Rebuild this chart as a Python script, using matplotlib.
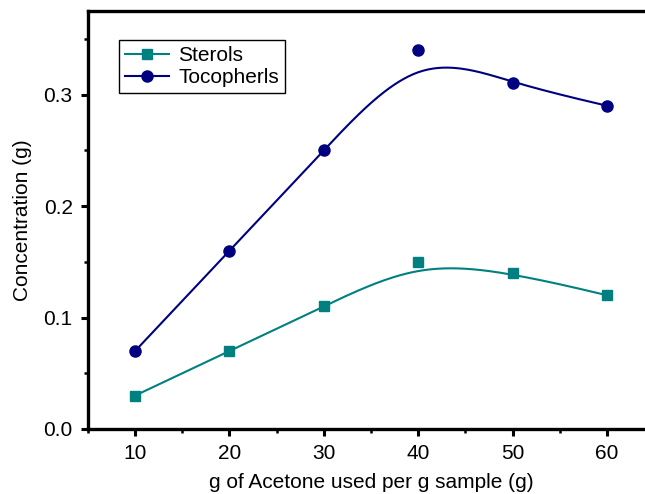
import numpy as np
import matplotlib
matplotlib.use("Agg")
import matplotlib.pyplot as plt
from matplotlib.ticker import MultipleLocator

# Data
acetone = [10, 20, 30, 40, 50, 60]
sterols = [0.03, 0.07, 0.11, 0.15, 0.14, 0.12]
tocopherols = [0.07, 0.16, 0.25, 0.34, 0.31, 0.29]
x_ticks = [10, 20, 30, 40, 50, 60]
y_ticks = [0.0, 0.1, 0.2, 0.3]


def bspline_curve(x, y, per_seg=60):
    """Uniform cubic B-spline using the data as control points (ends tripled)."""
    P = np.column_stack([x, y]).astype(float)
    C = np.vstack([P[0], P[0], P, P[-1], P[-1]])
    t = np.linspace(0, 1, per_seg)
    b0 = (1 - t) ** 3 / 6
    b1 = (3 * t ** 3 - 6 * t ** 2 + 4) / 6
    b2 = (-3 * t ** 3 + 3 * t ** 2 + 3 * t + 1) / 6
    b3 = t ** 3 / 6
    pts = []
    for i in range(len(C) - 3):
        seg = (np.outer(b0, C[i]) + np.outer(b1, C[i + 1])
               + np.outer(b2, C[i + 2]) + np.outer(b3, C[i + 3]))
        pts.append(seg)
    pts = np.vstack(pts)
    return pts[:, 0], pts[:, 1]


plt.rcParams['font.family'] = ['Liberation Sans', 'DejaVu Sans']

fig = plt.figure(figsize=(6.45, 4.94), dpi=100)
ax = fig.add_axes([0.1364, 0.1316, 0.8776, 0.8462])

teal = '#008080'
navy = '#000080'
sx, sy = bspline_curve(acetone, sterols)
tx, ty = bspline_curve(acetone, tocopherols)
ax.plot(sx, sy, color=teal, lw=1.5)
ax.plot(tx, ty, color=navy, lw=1.5)
ax.plot(acetone, sterols, 's', color=teal, ms=7, linestyle='none')
ax.plot(acetone, tocopherols, 'o', color=navy, ms=8, linestyle='none')

# legend proxies
ax.plot([], [], color=teal, marker='s', ms=7, lw=1.5, label='Sterols')
ax.plot([], [], color=navy, marker='o', ms=8, lw=1.5, label='Tocopherls')
leg = ax.legend(loc='upper left', bbox_to_anchor=(0.055, 0.93), fontsize=15,
                frameon=True, fancybox=False, edgecolor='black', framealpha=1,
                handlelength=2.1, borderpad=0.3, labelspacing=0.12, handletextpad=0.45,
                borderaxespad=0)
leg.get_frame().set_linewidth(1.0)

ax.set_xlim(5, 65)
ax.set_ylim(0, 0.375)
ax.set_xticks(x_ticks)
ax.set_yticks(y_ticks)
ax.set_yticklabels([f"{v:.1f}" for v in y_ticks])
ax.xaxis.set_minor_locator(MultipleLocator(5))
ax.yaxis.set_minor_locator(MultipleLocator(0.05))
ax.tick_params(which='major', direction='out', length=5, width=2.2, labelsize=15, pad=6)
ax.tick_params(which='minor', direction='out', length=3, width=1.8)
for s in ax.spines.values():
    s.set_linewidth(2.4)

ax.set_xlabel('g of Acetone used per g sample (g)', fontsize=15, labelpad=7)
ax.set_ylabel('Concentration (g)', fontsize=15, labelpad=8)

fig.savefig('out.png', dpi=100)
